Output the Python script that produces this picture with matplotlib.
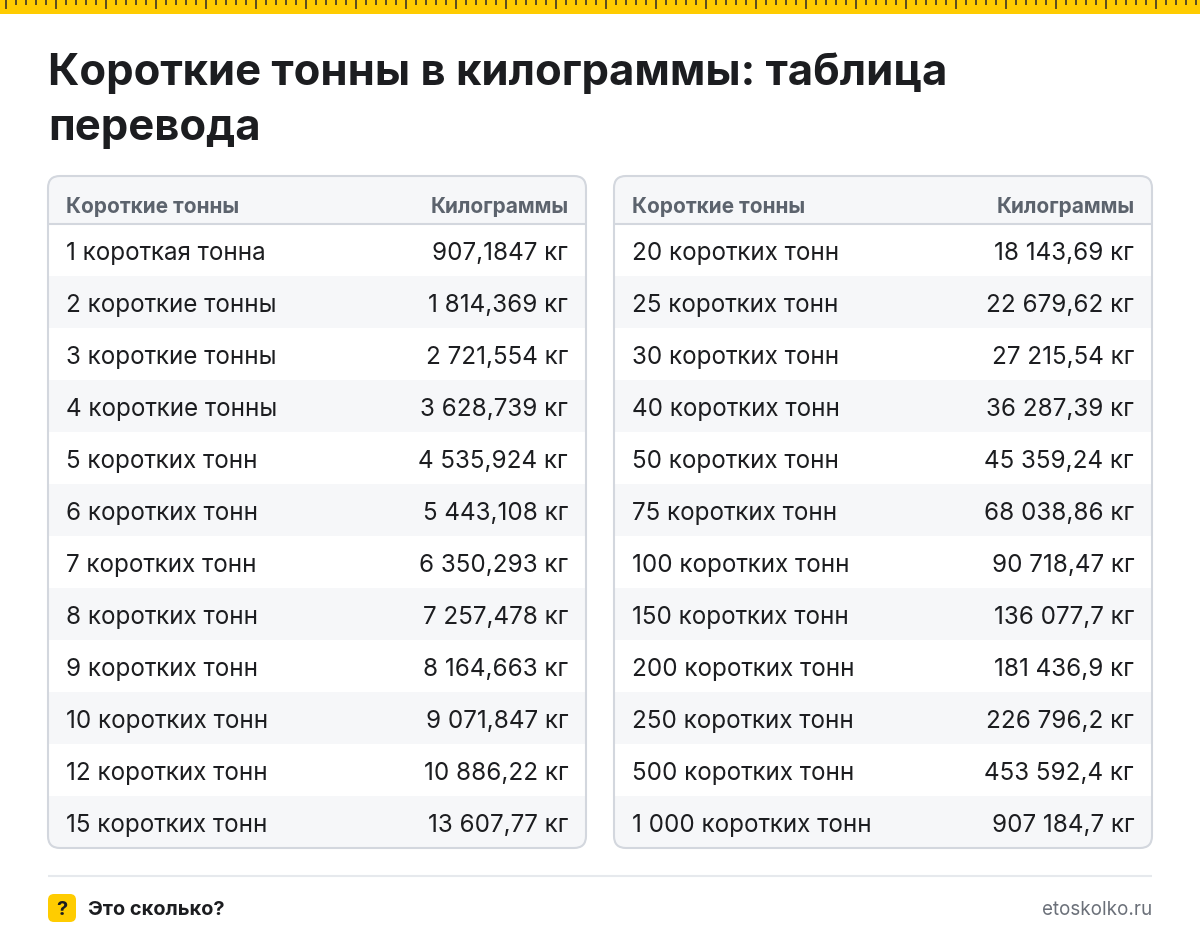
import matplotlib
matplotlib.use('Agg')
import matplotlib.pyplot as plt
from matplotlib.patches import FancyBboxPatch, Rectangle

plt.rcParams['font.family'] = ['Inter', 'DejaVu Sans']

title_lines = ['Короткие тонны в килограммы: таблица', 'перевода']
header_left = 'Короткие тонны'
header_right = 'Килограммы'

tons_a = ['1 короткая тонна', '2 короткие тонны', '3 короткие тонны', '4 короткие тонны',
          '5 коротких тонн', '6 коротких тонн', '7 коротких тонн', '8 коротких тонн',
          '9 коротких тонн', '10 коротких тонн', '12 коротких тонн', '15 коротких тонн']
kg_a = ['907,1847 кг', '1 814,369 кг', '2 721,554 кг', '3 628,739 кг',
        '4 535,924 кг', '5 443,108 кг', '6 350,293 кг', '7 257,478 кг',
        '8 164,663 кг', '9 071,847 кг', '10 886,22 кг', '13 607,77 кг']
tons_b = ['20 коротких тонн', '25 коротких тонн', '30 коротких тонн', '40 коротких тонн',
          '50 коротких тонн', '75 коротких тонн', '100 коротких тонн', '150 коротких тонн',
          '200 коротких тонн', '250 коротких тонн', '500 коротких тонн', '1 000 коротких тонн']
kg_b = ['18 143,69 кг', '22 679,62 кг', '27 215,54 кг', '36 287,39 кг',
        '45 359,24 кг', '68 038,86 кг', '90 718,47 кг', '136 077,7 кг',
        '181 436,9 кг', '226 796,2 кг', '453 592,4 кг', '907 184,7 кг']

YELLOW = '#ffcc00'
DARK = '#1c1d20'
GREY = '#5c636d'
BORDER = '#d3d7de'
STRIPE = '#f6f7f9'
PX = 0.72  # px to pt at dpi 100


def draw_table(ax, x0, x1, tons, kg):
    top, head_h, row_h = 176, 48, 52
    bottom = top + head_h + row_h * len(tons)
    card = FancyBboxPatch((x0 + 12, top + 12), x1 - x0 - 24, bottom - top - 24,
                          boxstyle='round,pad=12,rounding_size=12',
                          facecolor='white', edgecolor='none', zorder=1)
    ax.add_patch(card)

    head = Rectangle((x0, top), x1 - x0, head_h, facecolor=STRIPE, edgecolor='none', zorder=2)
    ax.add_patch(head)
    head.set_clip_path(card)
    ax.plot([x0, x1], [top + head_h, top + head_h], color=BORDER, lw=1.5, zorder=3,
            solid_capstyle='butt')

    ax.text(x0 + 18, top + 37, header_left, fontsize=20.85 * PX, fontweight='bold',
            color=GREY, va='baseline', ha='left', zorder=5)
    ax.text(x1 - 17, top + 37, header_right, fontsize=20.85 * PX, fontweight='bold',
            color=GREY, va='baseline', ha='right', zorder=5)

    for i, (name, val) in enumerate(zip(tons, kg)):
        y = top + head_h + row_h * i
        if i % 2 == 1:
            band = Rectangle((x0, y), x1 - x0, row_h, facecolor=STRIPE, edgecolor='none', zorder=2)
            ax.add_patch(band)
            band.set_clip_path(card)
        ax.text(x0 + 18, y + 36, name, fontsize=24.2 * PX, color=DARK, va='baseline', ha='left', zorder=5)
        ax.text(x1 - 18, y + 36, val, fontsize=24.2 * PX, color=DARK, va='baseline', ha='right', zorder=5)

    outline = FancyBboxPatch((x0 + 12, top + 12), x1 - x0 - 24, bottom - top - 24,
                             boxstyle='round,pad=12,rounding_size=12',
                             facecolor='none', edgecolor=BORDER, lw=1.5, zorder=6)
    ax.add_patch(outline)


fig = plt.figure(figsize=(12, 9.4), dpi=100)
ax = fig.add_axes([0, 0, 1, 1])
ax.set_xlim(0, 1200)
ax.set_ylim(940, 0)
ax.axis('off')

# ruler along the top
ax.add_patch(Rectangle((0, 0), 1200, 14, facecolor=YELLOW, edgecolor='none'))
for n, x in enumerate(range(5, 1200, 10)):
    h = 9 if n % 5 == 0 else 5
    ax.add_patch(Rectangle((x, 0), 2, h, facecolor='#5e5020', edgecolor='none',
                           linewidth=0, antialiased=False))

ax.text(48, 85, title_lines[0], fontsize=43.6 * PX, fontweight='bold', color=DARK, va='baseline')
ax.text(48, 140, title_lines[1], fontsize=43.6 * PX, fontweight='bold', color=DARK, va='baseline')

draw_table(ax, 48, 586, tons_a, kg_a)
draw_table(ax, 614, 1152, tons_b, kg_b)

# footer
ax.plot([48, 1152], [876, 876], color='#e6e9ed', lw=1.5, solid_capstyle='butt')
ax.add_patch(FancyBboxPatch((54, 900), 16, 16, boxstyle='round,pad=6,rounding_size=6',
                            facecolor=YELLOW, edgecolor='none'))
ax.text(62, 915, '?', fontsize=20 * PX, fontweight='bold', color=DARK, ha='center', va='baseline')
ax.text(88, 915, 'Это сколько?', fontsize=20 * PX, fontweight='bold', color=DARK, va='baseline')
ax.text(1152, 915, 'etoskolko.ru', fontsize=18.8 * PX, color='#6b7079', ha='right', va='baseline')

fig.savefig('out.png', dpi=100, facecolor='white')
